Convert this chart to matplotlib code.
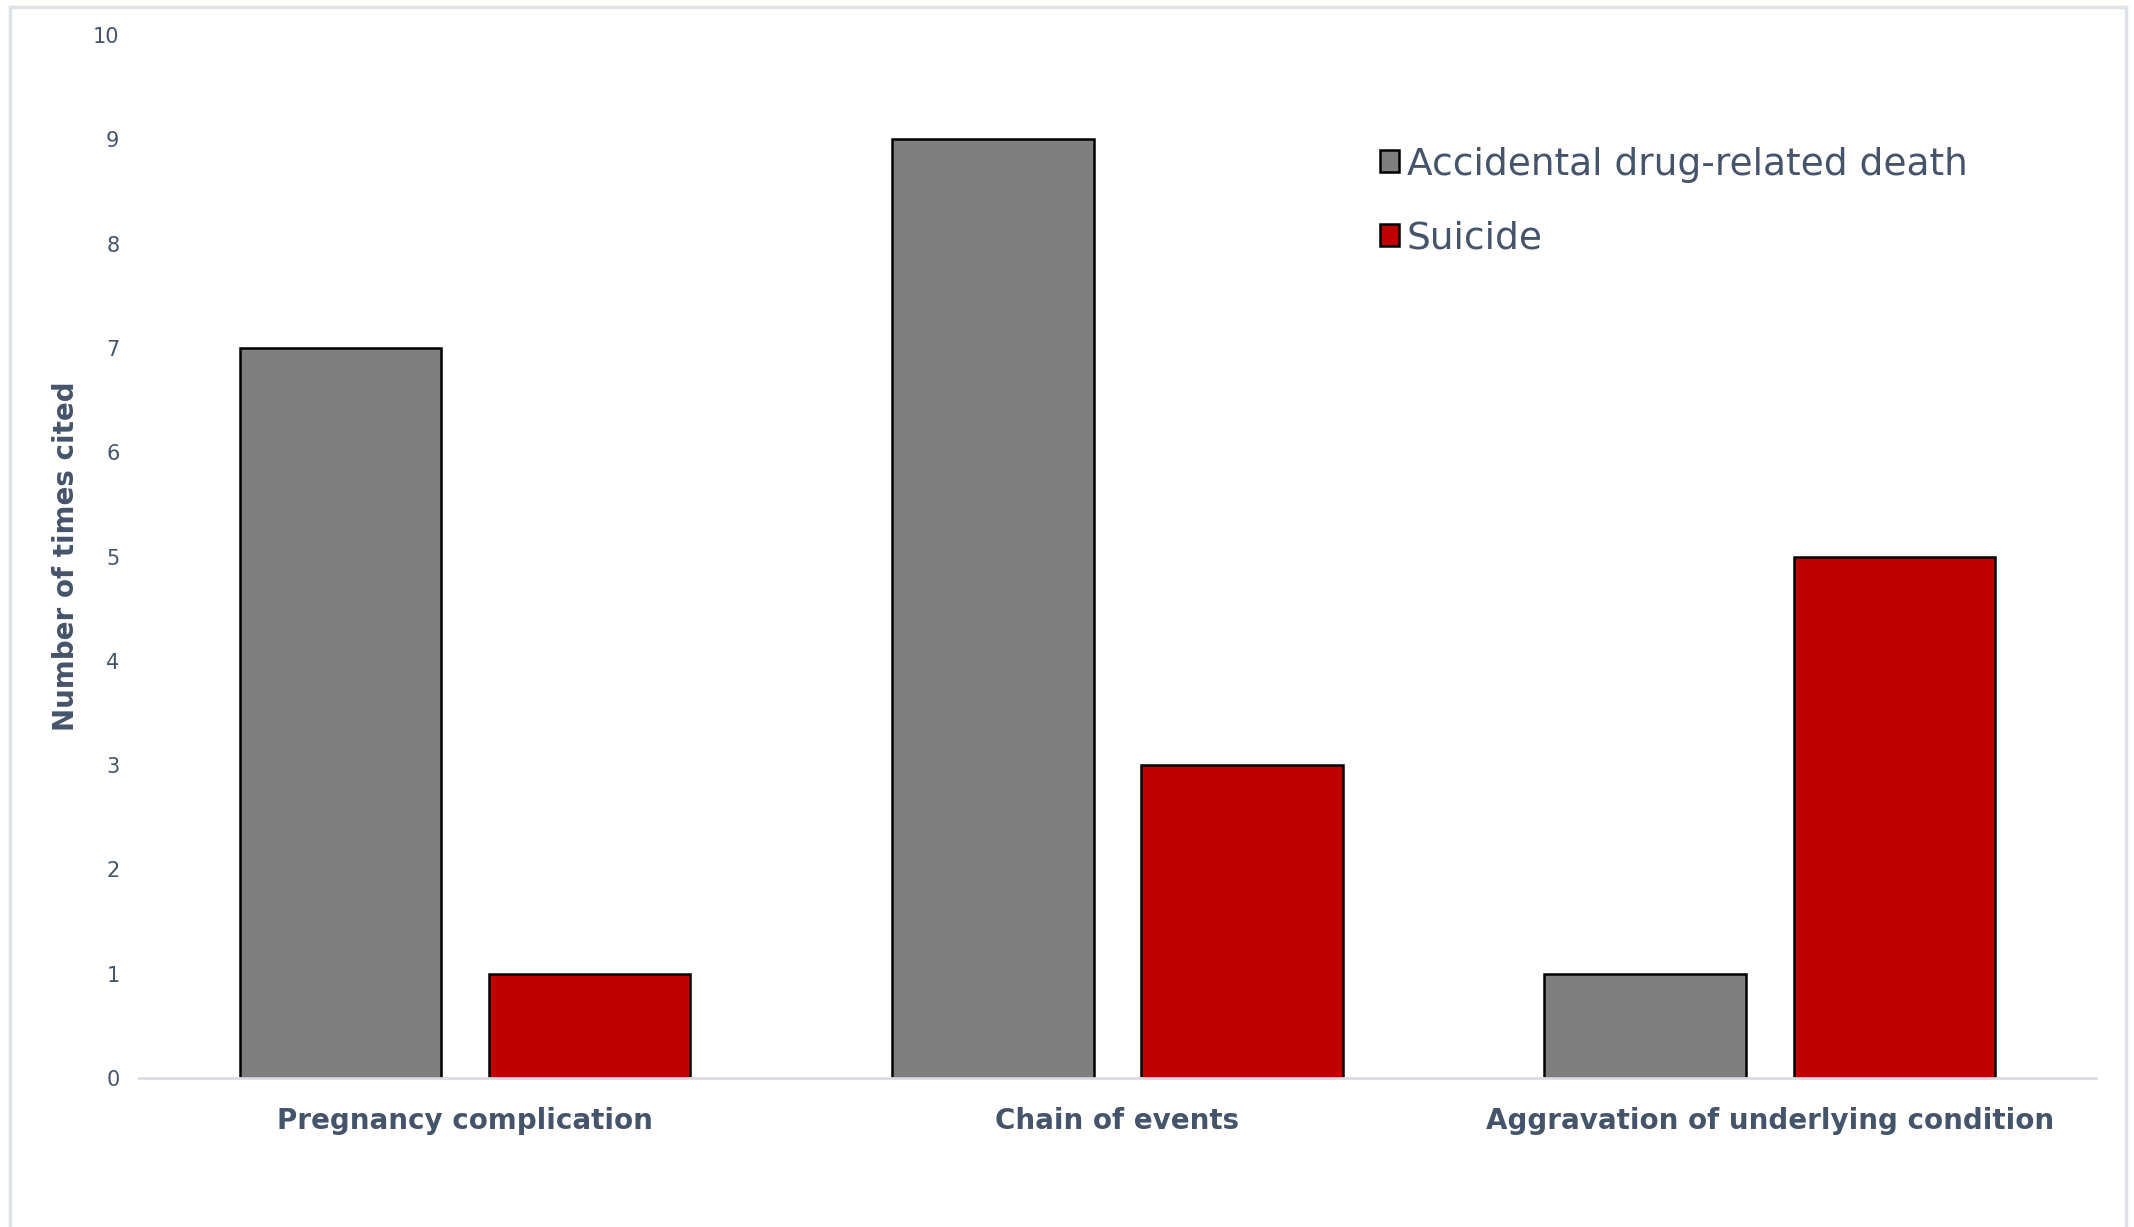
import matplotlib.pyplot as plt
from matplotlib.lines import Line2D
import numpy as np

categories = ["Pregnancy complication", "Chain of events", "Aggravation of underlying condition"]
accidental = [7, 9, 1]
suicide = [1, 3, 5]
series_names = ["Accidental drug-related death", "Suicide"]
y_ticks = list(range(0, 11))

text_col = "#44546a"
frame_col = "#dfe3e8"

plt.rcParams['font.family'] = ['DejaVu Sans']

fig = plt.figure(figsize=(21.34, 12.27), dpi=100)
ax = fig.add_axes([0.0651, 0.1214, 0.9171, 0.8501])

x = np.arange(len(categories))
w = 0.309
off = 0.191
ax.bar(x - off, accidental, w, color="#7f7f7f", edgecolor="black", linewidth=1.8,
       label=series_names[0], zorder=3)
ax.bar(x + off, suicide, w, color="#c00000", edgecolor="black", linewidth=1.8,
       label=series_names[1], zorder=3)

ax.set_xlim(-0.5, 2.5)
ax.set_ylim(0, 10)
ax.set_yticks(y_ticks)
ax.set_xticks(x)
ax.set_xticklabels(categories, fontsize=20, fontweight="bold", color=text_col)
ax.tick_params(axis="x", length=0, pad=21)
ax.tick_params(axis="y", length=0, pad=14, labelsize=15, labelcolor=text_col)

for s in ["top", "right", "left"]:
    ax.spines[s].set_visible(False)
ax.spines["bottom"].set_color("#d9dde3")
ax.spines["bottom"].set_linewidth(2)
ax.spines["bottom"].set_zorder(4)

ax.set_ylabel("Number of times cited", fontsize=20, fontweight="bold", color=text_col)
ax.yaxis.set_label_coords(-0.030, 0.5)

leg = ax.legend(loc="upper left", bbox_to_anchor=(0.634, 0.893), frameon=False,
                fontsize=27, labelcolor=text_col, handlelength=0.52, handleheight=0.52,
                handletextpad=0.2, labelspacing=1.0, borderpad=0, borderaxespad=0)

# outer chart border (open at the bottom)
for xs, ys in [([0.0045, 0.0045], [0, 0.9945]), ([0.0045, 0.9963], [0.9945, 0.9945]),
               ([0.9963, 0.9963], [0.9945, 0])]:
    fig.add_artist(Line2D(xs, ys, transform=fig.transFigure, color=frame_col, linewidth=2.5))

fig.savefig("out.png", dpi=100)
